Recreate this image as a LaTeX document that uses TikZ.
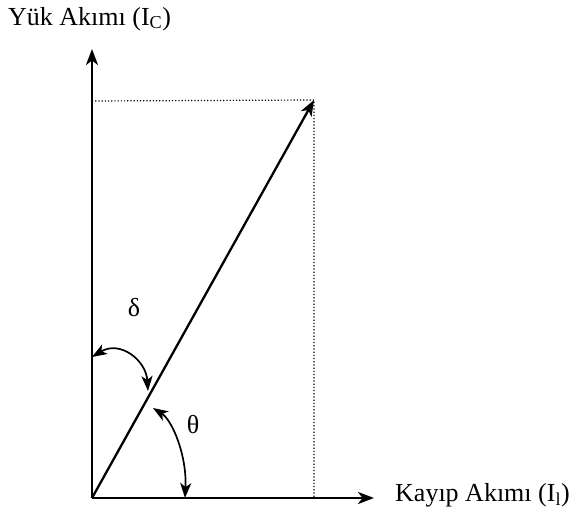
\documentclass[tikz,border=0pt]{standalone}
\usepackage{fontspec}
\setmainfont{Liberation Serif}
\usetikzlibrary{arrows.meta}
\begin{document}
\begin{tikzpicture}[x=1pt,y=-1pt,
  axis/.style={line width=2.3pt,-{Stealth[length=16pt,width=12pt,inset=4.5pt]}},
  guide/.style={line width=1.2pt,dotted},
  anglearc/.style={line width=1.7pt,{Stealth[length=15pt,width=11pt,inset=4pt]}-{Stealth[length=15pt,width=11pt,inset=4pt]}},
  lbl/.style={font=\fontsize{26}{30}\selectfont,inner sep=0pt}]
\useasboundingbox (0,0) rectangle (574,514);
\coordinate (O) at (92,498);
\coordinate (Ytop) at (92,49);
\coordinate (Xend) at (374,498);
\coordinate (P) at (314,100);
\coordinate (Py) at (92,101);
\coordinate (Px) at (314,498);
\draw[guide] (Py) -- (P) -- (Px);
\draw[axis] (O) -- (Ytop);
\draw[axis] (O) -- (Xend);
\draw[axis] (O) -- (P);
\coordinate (d1) at (92,357);
\coordinate (d2) at (148,391);
\coordinate (t1) at (153,408);
\coordinate (t2) at (185,498);
\draw[anglearc] (d1) .. controls (120,340) and (146,360) .. (d2);
\draw[anglearc] (t1) .. controls (172,420) and (187,455) .. (t2);
\node[lbl,anchor=base west] (ylab) at (8,25) {Yük Akımı (I\textsubscript{C})};
\node[lbl,anchor=base west] (xlab) at (395,501) {Kayıp Akımı (I\textsubscript{l})};
\node[lbl] (delta) at (134,308) {δ};
\node[lbl] (theta) at (193,425) {θ};
\end{tikzpicture}
\end{document}
